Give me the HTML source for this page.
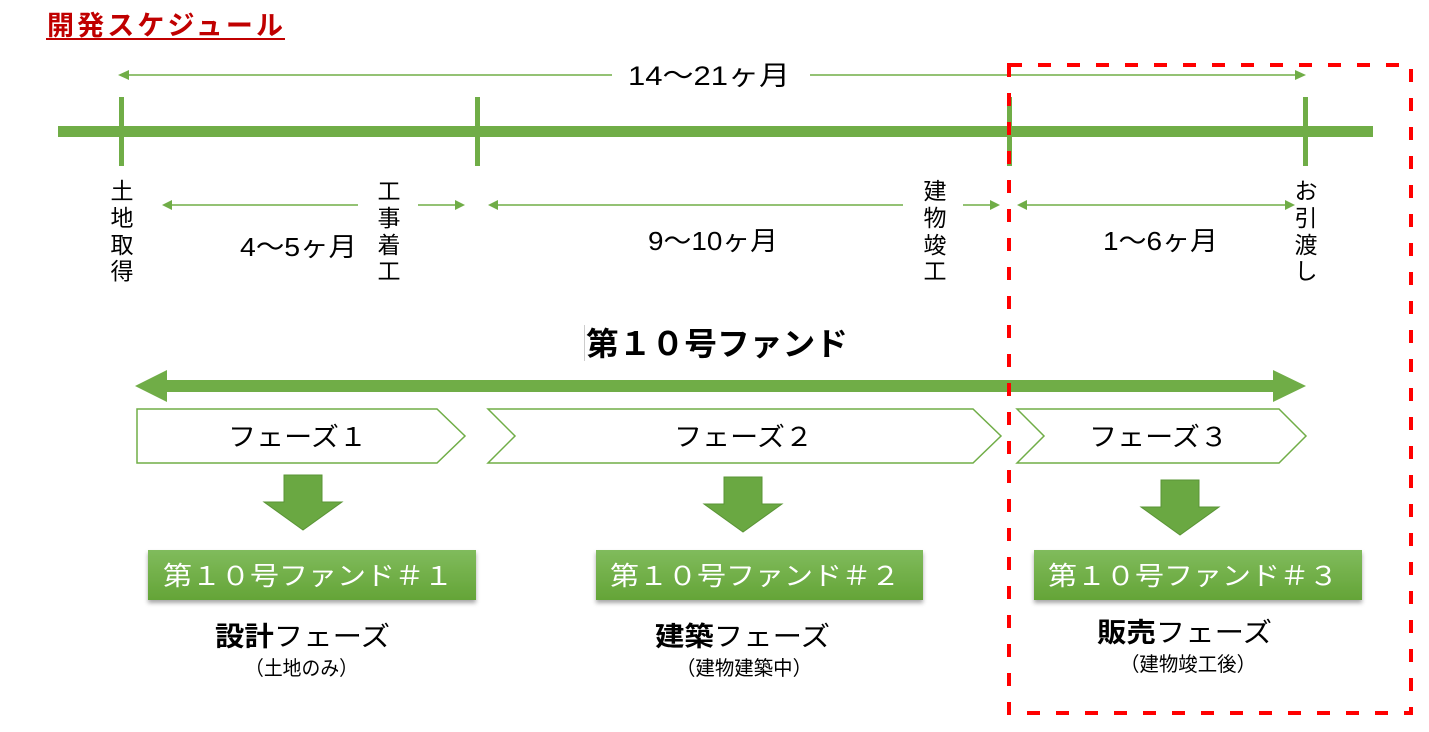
<!DOCTYPE html>
<html><head><meta charset="utf-8"><style>
html,body{margin:0;padding:0;background:#fff;}
svg{display:block;}
text{font-family:"Liberation Sans","Noto Sans CJK JP",sans-serif;}
</style></head><body>
<svg width="1429" height="732" viewBox="0 0 1429 732" xmlns="http://www.w3.org/2000/svg">
<defs>
<linearGradient id="g" x1="0" y1="0" x2="0" y2="1"><stop offset="0" stop-color="#80bb5c"/><stop offset="1" stop-color="#64a437"/></linearGradient>
<filter id="sh" x="-5%" y="-20%" width="110%" height="150%"><feDropShadow dx="0" dy="3" stdDeviation="2" flood-color="#000" flood-opacity="0.35"/></filter>
</defs>
<!-- title -->
<text x="47" y="35" font-size="27" font-weight="bold" fill="#c00000" textLength="236">開発スケジュール</text>
<rect x="46" y="38" width="239" height="2" fill="#c00000"/>

<!-- top span arrow -->
<g stroke="#70ad47" stroke-width="1.5" fill="#70ad47">
<line x1="125" y1="75" x2="612" y2="75"/>
<line x1="810" y1="75" x2="1298" y2="75"/>
</g>
<g fill="#70ad47">
<polygon points="118,75 129,70 129,80"/>
<polygon points="1306,75 1295,70 1295,80"/>
</g>
<text x="628" y="85" font-size="27" fill="#000" textLength="162" lengthAdjust="spacingAndGlyphs">14〜21ヶ月</text>

<!-- main timeline -->
<rect x="58" y="126" width="1315" height="11" fill="#70ad47"/>
<rect x="119" y="97" width="5" height="69" fill="#70ad47"/>
<rect x="475" y="97" width="5" height="69" fill="#70ad47"/>
<rect x="1007" y="97" width="5" height="69" fill="#70ad47"/>
<rect x="1303" y="97" width="5" height="69" fill="#70ad47"/>

<!-- vertical labels -->
<g font-size="23" fill="#000" text-anchor="middle">
<text x="122" y="199">土</text><text x="122" y="226">地</text><text x="122" y="253">取</text><text x="122" y="279">得</text>
<text x="389" y="199">工</text><text x="389" y="226">事</text><text x="389" y="253">着</text><text x="389" y="279">工</text>
<text x="935" y="199">建</text><text x="935" y="226">物</text><text x="935" y="253">竣</text><text x="935" y="279">工</text>
<text x="1306" y="199">お</text><text x="1306" y="226">引</text><text x="1306" y="253">渡</text><text x="1306" y="279">し</text>
</g>

<!-- small span arrows -->
<g stroke="#70ad47" stroke-width="1.5">
<line x1="170" y1="205" x2="358" y2="205"/><line x1="418" y1="205" x2="457" y2="205"/>
<line x1="496" y1="205" x2="903" y2="205"/><line x1="963" y1="205" x2="992" y2="205"/>
<line x1="1025" y1="205" x2="1287" y2="205"/>
</g>
<g fill="#70ad47">
<polygon points="162,205 172,200 172,210"/><polygon points="465,205 455,200 455,210"/>
<polygon points="488,205 498,200 498,210"/><polygon points="1000,205 990,200 990,210"/>
<polygon points="1017,205 1027,200 1027,210"/><polygon points="1295,205 1285,200 1285,210"/>
</g>
<g font-size="26" fill="#000">
<text x="240" y="256" textLength="117" lengthAdjust="spacingAndGlyphs">4〜5ヶ月</text>
<text x="648" y="250" textLength="130" lengthAdjust="spacingAndGlyphs">9〜10ヶ月</text>
<text x="1103" y="250" textLength="115" lengthAdjust="spacingAndGlyphs">1〜6ヶ月</text>
</g>

<!-- fund title -->
<text x="586" y="355" font-size="32" font-weight="bold" fill="#000" textLength="262" lengthAdjust="spacingAndGlyphs">第１０号ファンド</text>
<rect x="584" y="325" width="1" height="36" fill="#ccc"/>

<!-- double arrow -->
<rect x="165" y="380" width="1110" height="12" fill="#70ad47"/>
<polygon points="135,386 167,370 167,402" fill="#70ad47"/>
<polygon points="1306,386 1273,370 1273,402" fill="#70ad47"/>

<!-- chevrons -->
<g fill="#fff" stroke="#70ad47" stroke-width="1.5">
<polygon points="137,409 437,409 465,436 437,463 137,463"/>
<polygon points="488,409 973,409 1001,436 973,463 488,463 515,436"/>
<polygon points="1017,409 1279,409 1306,436 1279,463 1017,463 1044,436"/>
</g>
<g font-size="26" fill="#000">
<text x="228" y="446" textLength="139" lengthAdjust="spacingAndGlyphs">フェーズ１</text>
<text x="674" y="446" textLength="139" lengthAdjust="spacingAndGlyphs">フェーズ２</text>
<text x="1089" y="446" textLength="139" lengthAdjust="spacingAndGlyphs">フェーズ３</text>
</g>

<!-- down arrows -->
<g fill="#6aa842" stroke="#5a9436" stroke-width="1">
<polygon points="284,475 322,475 322,502 342,502 303,530 264,502 284,502"/>
<polygon points="724,477 762,477 762,504 782,504 743,532 704,504 724,504"/>
<polygon points="1161,480 1199,480 1199,507 1219,507 1180,535 1141,507 1161,507"/>
</g>

<!-- fund boxes -->
<g filter="url(#sh)" fill="url(#g)">
<rect x="148" y="550" width="328" height="50"/>
<rect x="596" y="550" width="327" height="50"/>
<rect x="1034" y="550" width="328" height="50"/>
</g>
<g font-size="26" fill="#fff">
<text x="163" y="585" textLength="290" lengthAdjust="spacingAndGlyphs">第１０号ファンド＃１</text>
<text x="610" y="585" textLength="290" lengthAdjust="spacingAndGlyphs">第１０号ファンド＃２</text>
<text x="1048" y="585" textLength="290" lengthAdjust="spacingAndGlyphs">第１０号ファンド＃３</text>
</g>

<!-- phase labels -->
<g font-size="27" fill="#000">
<text x="215" y="646" textLength="175" lengthAdjust="spacingAndGlyphs"><tspan font-weight="bold">設計</tspan>フェーズ</text>
<text x="655" y="646" textLength="175" lengthAdjust="spacingAndGlyphs"><tspan font-weight="bold">建築</tspan>フェーズ</text>
<text x="1097" y="642" textLength="175" lengthAdjust="spacingAndGlyphs"><tspan font-weight="bold">販売</tspan>フェーズ</text>
</g>
<g font-size="20" fill="#000">
<text x="245" y="675" textLength="113" lengthAdjust="spacingAndGlyphs">（土地のみ）</text>
<text x="676" y="675" textLength="136" lengthAdjust="spacingAndGlyphs">（建物建築中）</text>
<text x="1120" y="671" textLength="136" lengthAdjust="spacingAndGlyphs">（建物竣工後）</text>
</g>

<!-- red dashed box -->
<rect x="1009" y="65" width="402" height="648" fill="none" stroke="#ff0000" stroke-width="4" stroke-dasharray="13,16"/>
</svg>
</body></html>
